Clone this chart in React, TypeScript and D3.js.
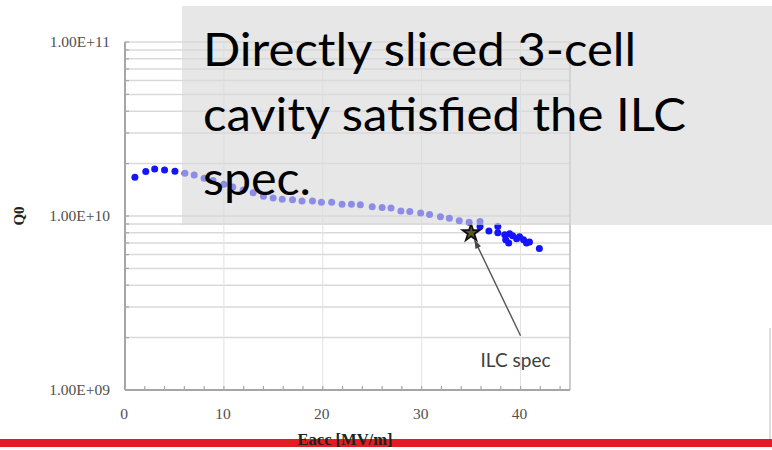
import React from "react";
import * as d3 from "d3";

const eacc = [1.0, 2.1, 3.0, 4.0, 5.05, 6.06, 7.0, 8.0, 8.9, 10.0, 10.9, 11.95, 12.96, 14.0, 14.98, 15.9, 16.94, 17.9, 18.96, 19.86, 20.9, 21.95, 22.9, 23.8, 25.0, 26.0, 26.9, 27.9, 28.8, 29.9, 30.8, 31.9, 32.8, 33.8, 34.8, 35.9, 35.9, 36.8, 37.7, 37.7, 38.4, 38.9, 39.2, 38.5, 38.8, 39.6, 40.3, 40.6, 40.9, 39.9, 41.9];
const q0 = [1.67e10, 1.8e10, 1.86e10, 1.84e10, 1.81e10, 1.76e10, 1.72e10, 1.65e10, 1.6e10, 1.52e10, 1.47e10, 1.41e10, 1.36e10, 1.3e10, 1.27e10, 1.25e10, 1.24e10, 1.22e10, 1.22e10, 1.2e10, 1.2e10, 1.17e10, 1.17e10, 1.16e10, 1.13e10, 1.12e10, 1.11e10, 1.07e10, 1.06e10, 1.04e10, 1.02e10, 9.9e9, 9.7e9, 9.4e9, 9.2e9, 8.7e9, 9.3e9, 8.2e9, 8.0e9, 8.7e9, 7.8e9, 7.9e9, 7.7e9, 7.3e9, 7.0e9, 7.4e9, 7.3e9, 7.0e9, 7.1e9, 7.6e9, 6.5e9];

const specE = 35;
const specQ = 8e9;
const specLabel = "ILC spec";
const labelE = 40;
const labelQ = 2.05e9;

const xTicks = [0, 10, 20, 30, 40];
const yTicks = [1e9, 1e10, 1e11];
const yTickLabels = ["1.00E+09", "1.00E+10", "1.00E+11"];
const titleLines = ["Directly sliced 3-cell", "cavity satisfied the ILC", "spec."];
const titleWidths = [433, 483, 108];
const xTitle = "Eacc [MV/m]";
const yTitle = "Q0";

export default function App() {
  const W = 772, H = 450;
  const left = 125, right = 570, top = 42, bottom = 390;
  const x = d3.scaleLinear().domain([0, 45]).range([left, right]);
  const y = d3.scaleLog().domain([1e9, 1e11]).range([bottom, top]);

  const minor: number[] = [];
  for (let e = 9; e < 11; e++) for (let m = 1; m <= 9; m++) minor.push(m * Math.pow(10, e));
  minor.push(1e11);

  const xMinor = d3.range(0, 45.01, 2);

  const starPath = d3.symbol().type(d3.symbolStar).size(90)() as string;

  const sx = x(specE), sy = y(specQ);
  const lx = x(labelE), ly = y(labelQ);
  const ang = Math.atan2(sy - ly, sx - lx);
  const tipX = sx + Math.cos(ang + Math.PI) * 8;
  const tipY = sy + Math.sin(ang + Math.PI) * 8;
  const ah = 9, aw = 0.35;
  const arrowHead = `M${tipX},${tipY}L${tipX - ah * Math.cos(ang - aw)},${tipY - ah * Math.sin(ang - aw)}L${tipX - ah * Math.cos(ang + aw)},${tipY - ah * Math.sin(ang + aw)}Z`;

  return (
    <svg width={W} height={H} style={{ position: "fixed", left: 0, top: 0, background: "#fff" }}>
      {minor.map((v, i) => (
        <line key={"hg" + i} x1={left} x2={right} y1={y(v)} y2={y(v)} stroke="#d9d9d9" strokeWidth={1.5} />
      ))}
      {xTicks.filter((t) => t > 0).map((t) => (
        <line key={"vg" + t} x1={x(t)} x2={x(t)} y1={top} y2={bottom} stroke="#e2e2e2" strokeWidth={1} />
      ))}
      <line x1={right} x2={right} y1={top} y2={bottom} stroke="#bdbdbd" strokeWidth={1.5} />
      <line x1={left} x2={left} y1={top} y2={bottom} stroke="#a6a6a6" strokeWidth={2} />
      <line x1={left} x2={right} y1={bottom} y2={bottom} stroke="#a6a6a6" strokeWidth={2} />
      {minor.map((v, i) => (
        <line key={"yt" + i} x1={left} x2={left + 4} y1={y(v)} y2={y(v)} stroke="#a6a6a6" strokeWidth={1.2} />
      ))}
      {xMinor.map((t, i) => (
        <line key={"xt" + i} x1={x(t)} x2={x(t)} y1={bottom} y2={bottom - 4} stroke="#a6a6a6" strokeWidth={1.2} />
      ))}
      {yTicks.map((v, i) => (
        <text key={"yl" + i} x={110} y={y(v) + 5} textAnchor="end" fontFamily="Liberation Serif, serif" fontSize={15.5} fill="#505050">
          {yTickLabels[i]}
        </text>
      ))}
      {xTicks.map((t) => (
        <text key={"xl" + t} x={x(t) - 1} y={419} textAnchor="middle" fontFamily="Liberation Serif, serif" fontSize={15.5} fill="#505050">
          {t}
        </text>
      ))}
      <text transform={`translate(24,${y(1e10)}) rotate(-90)`} textAnchor="middle" fontFamily="Liberation Serif, serif" fontWeight="bold" fontSize={15} fill="#222">
        {yTitle}
      </text>
      {eacc.map((e, i) => (
        <circle key={"p" + i} cx={x(e)} cy={y(q0[i])} r={3.5} fill="#1414ff" />
      ))}
      <path d={starPath} transform={`translate(${sx},${sy})`} fill="#5a5a20" stroke="#111" strokeWidth={1.8} />
      <line x1={lx} y1={ly} x2={tipX} y2={tipY} stroke="#555" strokeWidth={1.4} />
      <path d={arrowHead} fill="#444" />
      <text x={lx - 40} y={ly + 31} fontFamily="Lato, sans-serif" fontSize={19} fill="#404040">
        {specLabel}
      </text>
      <rect x={182} y={6} width={W - 182} height={219} fill="rgb(217,217,217)" fillOpacity={0.62} />
      {titleLines.map((s, i) => (
        <text key={"tl" + i} x={203} y={66 + i * 64.5} fontFamily="Lato, sans-serif" fontSize={46} fill="#000" textLength={titleWidths[i]} lengthAdjust="spacingAndGlyphs">
          {s}
        </text>
      ))}
      <line x1={770} x2={770} y1={328} y2={440} stroke="#dedede" strokeWidth={2} />
      <rect x={0} y={439} width={W} height={8} fill="#e31b23" />
      <text x={345} y={445} textAnchor="middle" fontFamily="Liberation Serif, serif" fontWeight="bold" fontSize={16.5} fill="#222">
        {xTitle}
      </text>
    </svg>
  );
}
